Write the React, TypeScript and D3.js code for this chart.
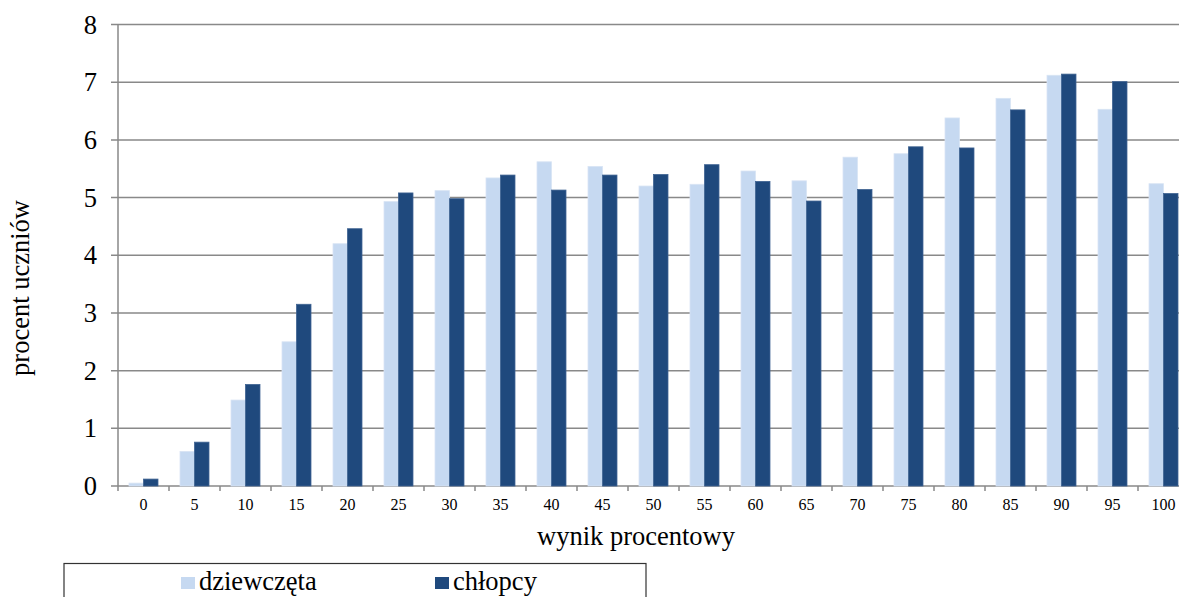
import { useEffect, useRef } from 'react';
import * as d3 from 'd3';

const categories = ['0', '5', '10', '15', '20', '25', '30', '35', '40', '45', '50', '55', '60', '65', '70', '75', '80', '85', '90', '95', '100'];
const girls = [0.05, 0.6, 1.49, 2.5, 4.2, 4.93, 5.12, 5.34, 5.62, 5.54, 5.2, 5.23, 5.46, 5.29, 5.7, 5.76, 6.38, 6.72, 7.12, 6.53, 5.24];
const boys = [0.12, 0.76, 1.76, 3.15, 4.46, 5.08, 4.98, 5.39, 5.13, 5.39, 5.4, 5.57, 5.28, 4.94, 5.14, 5.88, 5.86, 6.52, 7.14, 7.01, 5.07];
const seriesNames = ['dziewczęta', 'chłopcy'];
const seriesColors = ['#c6d9f1', '#1f497d'];
const yTicks = [0, 1, 2, 3, 4, 5, 6, 7, 8];

const FONT = 'Liberation Serif, Times New Roman, serif';

export default function App() {
  const svgRef = useRef<SVGSVGElement>(null);

  useEffect(() => {
    if (!svgRef.current) return;
    const width = 1179;
    const height = 597;
    const svg = d3.select(svgRef.current);
    svg.selectAll('*').remove();
    svg.attr('width', width).attr('height', height).style('font-family', FONT);

    const left = 118;
    const step = 51;
    const top = 24.5;
    const bottom = 486;

    const x0 = d3.scaleBand().domain(categories).range([left, left + step * categories.length]).padding(0);
    const x1 = d3.scaleBand().domain(seriesNames).range([0, x0.bandwidth()]).paddingInner(0).paddingOuter(0.76);
    const y = d3.scaleLinear().domain([0, 8]).range([bottom, top]);

    const grid = '#898989';

    // gridlines
    svg.append('g')
      .selectAll('line')
      .data(yTicks)
      .join('line')
      .attr('x1', left - 7)
      .attr('x2', width)
      .attr('y1', (d) => y(d))
      .attr('y2', (d) => y(d))
      .attr('stroke', grid)
      .attr('stroke-width', 1.5);

    // y axis line
    svg.append('line')
      .attr('x1', left).attr('x2', left)
      .attr('y1', top).attr('y2', bottom)
      .attr('stroke', grid).attr('stroke-width', 1.5);

    // x ticks
    const tickXs = categories.map((c) => x0(c) ?? 0);
    svg.append('g')
      .selectAll('line')
      .data(tickXs)
      .join('line')
      .attr('x1', (d) => d).attr('x2', (d) => d)
      .attr('y1', bottom).attr('y2', bottom + 5)
      .attr('stroke', grid).attr('stroke-width', 1.5);

    // bars
    const rows = categories.map((c, i) => ({ c, vals: [girls[i], boys[i]] }));
    const groups = svg.append('g')
      .selectAll('g')
      .data(rows)
      .join('g')
      .attr('transform', (d) => `translate(${x0(d.c)},0)`);

    groups.selectAll('rect')
      .data((d) => d.vals.map((v, i) => ({ v, s: seriesNames[i], i })))
      .join('rect')
      .attr('x', (d) => x1(d.s) ?? 0)
      .attr('y', (d) => y(d.v))
      .attr('width', x1.bandwidth())
      .attr('height', (d) => bottom - y(d.v))
      .attr('fill', (d) => seriesColors[d.i])
      .attr('stroke', (d) => (d.i === 1 ? '#3f6392' : '#d8e4f4'))
      .attr('stroke-width', 0.8);

    // y tick labels
    svg.append('g')
      .selectAll('text')
      .data(yTicks)
      .join('text')
      .attr('x', 97)
      .attr('y', (d) => y(d))
      .attr('dy', '0.34em')
      .attr('text-anchor', 'end')
      .style('font-family', FONT)
      .attr('font-size', 26.5)
      .attr('fill', '#000')
      .text((d) => String(d));

    // x tick labels
    svg.append('g')
      .selectAll('text')
      .data(categories)
      .join('text')
      .attr('x', (d) => (x0(d) ?? 0) + x0.bandwidth() / 2)
      .attr('y', 510)
      .attr('text-anchor', 'middle')
      .style('font-family', FONT)
      .attr('font-size', 16)
      .attr('fill', '#000')
      .text((d) => d);

    // axis titles
    svg.append('text')
      .attr('x', 636)
      .attr('y', 545)
      .attr('text-anchor', 'middle')
      .style('font-family', FONT)
      .attr('font-size', 26.5)
      .text('wynik procentowy');

    svg.append('text')
      .attr('transform', 'translate(29,288) rotate(-90)')
      .attr('text-anchor', 'middle')
      .style('font-family', FONT)
      .attr('font-size', 26.5)
      .text('procent uczniów');

    // legend
    svg.append('rect')
      .attr('x', 64).attr('y', 563.5)
      .attr('width', 582).attr('height', 60)
      .attr('fill', 'none').attr('stroke', '#333').attr('stroke-width', 1.2);

    const legendX = [181, 435];
    seriesNames.forEach((name, i) => {
      svg.append('rect')
        .attr('x', legendX[i]).attr('y', 577)
        .attr('width', 14).attr('height', 12)
        .attr('fill', seriesColors[i]);
      svg.append('text')
        .attr('x', legendX[i] + 18)
        .attr('y', 590)
        .style('font-family', FONT)
        .attr('font-size', 26.5)
        .text(name);
    });
  }, []);

  return (
    <div style={{ position: 'absolute', left: 0, top: 0, width: 1179, height: 597, background: '#fff' }}>
      <svg ref={svgRef} style={{ display: 'block' }} />
    </div>
  );
}
